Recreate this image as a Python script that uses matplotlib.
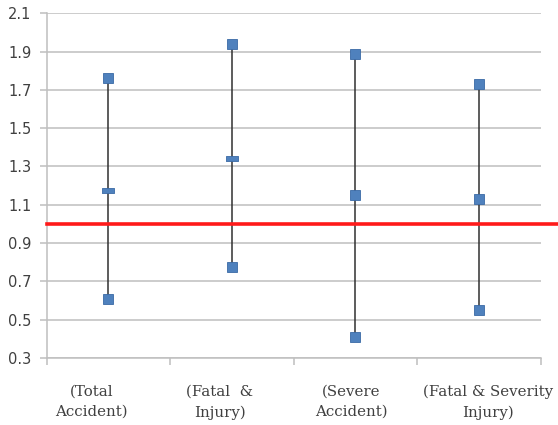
import matplotlib
matplotlib.use("Agg")
import matplotlib.pyplot as plt
from matplotlib.transforms import offset_copy
import numpy as np

# values
categories = ["(Total\nAccident)", "(Fatal  &\nInjury)",
              "(Severe\nAccident)", "(Fatal & Severity\nInjury)"]
upper = [1.76, 1.94, 1.89, 1.73]
middle = [1.175, 1.345, 1.15, 1.13]
lower = [0.61, 0.775, 0.41, 0.55]
ref_value = 1.0
yticks = [0.3, 0.5, 0.7, 0.9, 1.1, 1.3, 1.5, 1.7, 1.9, 2.1]

blue = "#4f81bd"
edge = "#3a6aa5"
grid_c = "#bfbfbf"
txt_c = "#404040"

fig = plt.figure(figsize=(5.58, 4.25), dpi=100)
ax = fig.add_axes([0.0837, 0.158, 0.8853, 0.8105])

x = np.arange(1, len(categories) + 1)

ax.vlines(x, lower, upper, color="#303030", lw=1.1, zorder=3)
ax.plot(x, upper, ls="none", marker="s", ms=7, mfc=blue, mec=edge, mew=0.6, zorder=4)
ax.plot(x, lower, ls="none", marker="s", ms=7, mfc=blue, mec=edge, mew=0.6, zorder=4)
flat = [(-1, -0.45), (1, -0.45), (1, 0.45), (-1, 0.45), (-1, -0.45)]
ax.plot(x[:2], middle[:2], ls="none", marker=flat, ms=8, mfc=blue, mec=edge, mew=0.6, zorder=4)
ax.plot(x[2:], middle[2:], ls="none", marker="s", ms=7, mfc=blue, mec=edge, mew=0.6, zorder=4)

ax.axhline(ref_value, xmin=0, xmax=1.035, color="#ff1a1a", lw=2.6, clip_on=False, zorder=5)

ax.set_xlim(0.5, 4.5)
ax.set_ylim(0.3, 2.1)
ax.set_yticks(yticks)
ax.set_yticklabels([f"{v:.1f}" for v in yticks], fontsize=10.5, color=txt_c)
ax.yaxis.grid(True, color=grid_c, lw=1.1)
ax.set_axisbelow(True)

ax.set_xticks(np.arange(0.5, 4.6, 1.0))
ax.set_xticklabels([])
ax.tick_params(axis="x", length=5, color=grid_c, width=1.1)
ax.tick_params(axis="y", length=5, color=grid_c, width=1.1, pad=6)

# category labels sit a little off-centre in the reference
label_dx = [-17, -12, -4, 9]
for xi, lab, dx in zip(x, categories, label_dx):
    tr = offset_copy(ax.get_xaxis_transform(), fig=fig, x=dx, y=-27, units="dots")
    ax.text(xi, 0, lab, transform=tr, ha="center", va="top", ma="center",
            fontsize=10.8, color=txt_c, family="DejaVu Serif", linespacing=1.55,
            clip_on=False)

for s in ["top", "right"]:
    ax.spines[s].set_visible(False)
for s in ["left", "bottom"]:
    ax.spines[s].set_color(grid_c)
    ax.spines[s].set_linewidth(1.1)

fig.savefig("out.png", dpi=100)
